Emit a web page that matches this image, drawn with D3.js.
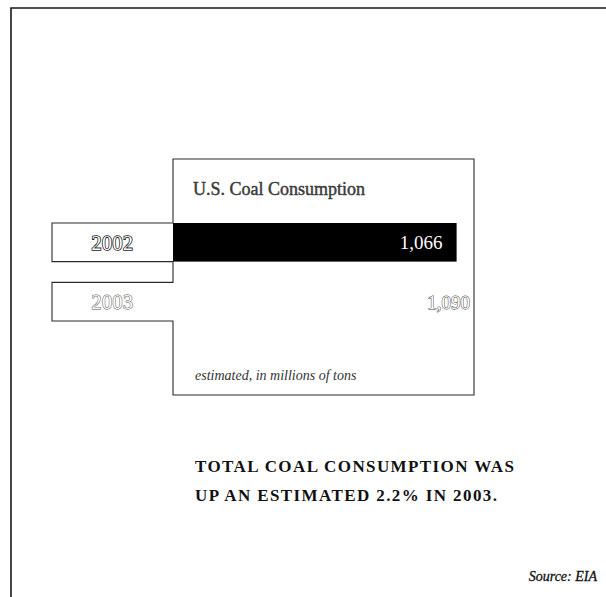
<!DOCTYPE html>
<html>
<head>
<meta charset="utf-8">
<script src="https://cdn.jsdelivr.net/npm/d3@7"></script>
<style>
  html, body { margin: 0; padding: 0; background: #fff; }
  svg { display: block; }
</style>
</head>
<body>
<script>
// U.S. coal consumption, estimated, in millions of tons
const years = ["2002", "2003"];
const values = [1066, 1090];
const barFills = ["#000000", "#ffffff"];
const titleText = "U.S. Coal Consumption";
const unitNote = "estimated, in millions of tons";
const captionLines = ["TOTAL COAL CONSUMPTION WAS", "UP AN ESTIMATED 2.2% IN 2003."];
const sourceText = "Source: EIA";

const W = 606, H = 597;
const svg = d3.select("body").append("svg").attr("width", W).attr("height", H);

const serif = "'Liberation Serif', 'DejaVu Serif', serif";
const ink = "#1a1a1a";

// outer frame: top and left rules
svg.append("path")
  .attr("d", "M11,597 L11,8 L606,8")
  .attr("fill", "none").attr("stroke", ink).attr("stroke-width", 1.6);

// panel geometry
const box = { left: 173, top: 159, right: 474, bottom: 395 };
const tabLeft = 52;

const x = d3.scaleLinear().domain([0, d3.max(values)]).range([box.left, 463]);
const y = d3.scaleBand().domain(years).range([223, 321]).paddingInner(0.35);

const rows = years.map((yr, i) => ({ year: yr, value: values[i], fill: barFills[i] }));

// bars
svg.selectAll("rect.bar").data(rows).join("rect")
  .attr("class", "bar")
  .attr("x", x(0))
  .attr("y", d => y(d.year))
  .attr("width", d => x(d.value) - x(0))
  .attr("height", y.bandwidth())
  .attr("fill", d => d.fill);

// panel outline with the year tabs sticking out on the left
const y0 = y(years[0]), y0b = y0 + y.bandwidth();
const y1 = y(years[1]), y1b = y1 + y.bandwidth();
const p = d3.path();
p.moveTo(box.left, y0); p.lineTo(box.left, box.top); p.lineTo(box.right, box.top);
p.lineTo(box.right, box.bottom); p.lineTo(box.left, box.bottom); p.lineTo(box.left, y1b);
p.lineTo(tabLeft, y1b); p.lineTo(tabLeft, y1); p.lineTo(box.left, y1); p.lineTo(box.left, y0b);
p.lineTo(tabLeft, y0b); p.lineTo(tabLeft, y0); p.lineTo(box.left, y0);
svg.append("path").attr("d", p.toString())
  .attr("fill", "none").attr("stroke", "#2a2a2a").attr("stroke-width", 1.1);

// title
svg.append("text")
  .attr("x", 193).attr("y", 195)
  .attr("font-family", serif).attr("font-size", 18)
  .attr("fill", "#3a3a3a").attr("stroke", "#3a3a3a").attr("stroke-width", 0.45)
  .text(titleText);

// year labels in the tabs (outlined figures)
svg.selectAll("text.year").data(rows).join("text")
  .attr("class", "year")
  .attr("x", (tabLeft + box.left) / 2)
  .attr("y", d => y(d.year) + y.bandwidth() / 2)
  .attr("dy", "0.36em")
  .attr("text-anchor", "middle")
  .attr("font-family", serif).attr("font-size", 20)
  .attr("letter-spacing", 0.5)
  .attr("fill", "#fff")
  .attr("stroke", (d, i) => i === 0 ? "#1a1a1a" : "#555")
  .attr("stroke-width", (d, i) => i === 0 ? 1.6 : 1.0)
  .attr("paint-order", "stroke")
  .text(d => d.year);

// value labels at the bar ends
svg.selectAll("text.value").data(rows).join("text")
  .attr("class", "value")
  .attr("x", (d, i) => i === 0 ? x(d.value) - 14 : x(d.value) + 7)
  .attr("y", d => y(d.year) + y.bandwidth() / 2)
  .attr("dy", "0.36em")
  .attr("text-anchor", "end")
  .attr("font-family", serif).attr("font-size", 19)
  .attr("fill", "#fff")
  .attr("stroke", (d, i) => i === 0 ? "none" : "#444")
  .attr("stroke-width", 1.0)
  .attr("paint-order", "stroke")
  .text(d => d3.format(",")(d.value));

// unit note
svg.append("text")
  .attr("x", 195).attr("y", 380)
  .attr("font-family", serif).attr("font-size", 14).attr("font-style", "italic")
  .attr("fill", "#333")
  .text(unitNote);

// caption
svg.selectAll("text.caption").data(captionLines).join("text")
  .attr("class", "caption")
  .attr("x", 195)
  .attr("y", (d, i) => 472 + i * 29)
  .attr("font-family", serif).attr("font-size", 17).attr("font-weight", "bold")
  .attr("letter-spacing", 1.4)
  .attr("fill", "#111")
  .text(d => d);

// source
svg.append("text")
  .attr("x", 597).attr("y", 581)
  .attr("text-anchor", "end")
  .attr("font-family", serif).attr("font-size", 14).attr("font-style", "italic")
  .attr("fill", "#111").attr("stroke", "#111").attr("stroke-width", 0.3)
  .text(sourceText);
</script>
</body>
</html>
